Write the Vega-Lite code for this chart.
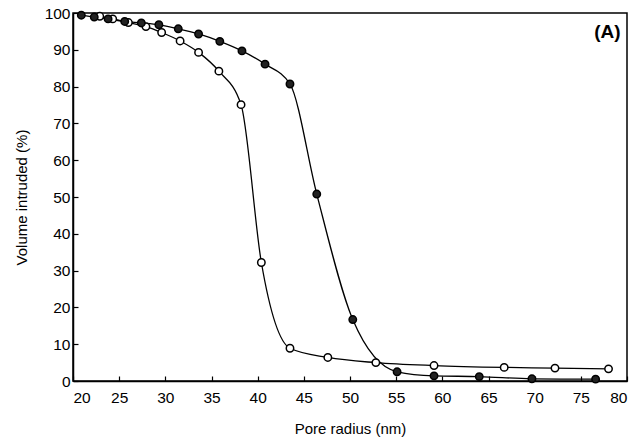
{
  "$schema": "https://vega.github.io/schema/vega-lite/v6.json",
  "width": 554,
  "height": 368,
  "autosize": "none",
  "padding": {"left": 73, "top": 13, "right": 12, "bottom": 59},
  "background": "white",
  "config": {
    "font": "Liberation Sans",
    "view": {"stroke": "black", "strokeWidth": 1.5},
    "axis": {
      "domainColor": "black",
      "domainWidth": 1.5,
      "tickColor": "black",
      "tickSize": -5,
      "tickWidth": 1.2,
      "grid": false,
      "labelOverlap": false,
      "labelFont": "Liberation Sans",
      "labelFontSize": 15.5,
      "labelColor": "black",
      "titleFont": "Liberation Sans",
      "titleFontSize": 15,
      "titleFontWeight": "normal",
      "titleColor": "black"
    }
  },
  "layer": [
    {
      "data": {
        "values": [
          {"series": "open", "r": 22.9, "v": 99.1},
          {"series": "open", "r": 24.3, "v": 98.4},
          {"series": "open", "r": 26.0, "v": 97.4},
          {"series": "open", "r": 27.9, "v": 96.3},
          {"series": "open", "r": 29.6, "v": 94.7},
          {"series": "open", "r": 31.6, "v": 92.4},
          {"series": "open", "r": 33.6, "v": 89.3},
          {"series": "open", "r": 35.8, "v": 84.2},
          {"series": "open", "r": 38.2, "v": 75.1},
          {"series": "open", "r": 40.4, "v": 32.2},
          {"series": "open", "r": 43.5, "v": 8.9},
          {"series": "open", "r": 47.6, "v": 6.4},
          {"series": "open", "r": 52.8, "v": 5.0},
          {"series": "open", "r": 59.1, "v": 4.2},
          {"series": "open", "r": 66.7, "v": 3.7},
          {"series": "open", "r": 72.2, "v": 3.5},
          {"series": "open", "r": 78.0, "v": 3.3},
          {"series": "filled", "r": 20.9, "v": 99.4},
          {"series": "filled", "r": 22.3, "v": 98.9},
          {"series": "filled", "r": 23.8, "v": 98.4},
          {"series": "filled", "r": 25.6, "v": 97.7},
          {"series": "filled", "r": 27.4, "v": 97.3},
          {"series": "filled", "r": 29.3, "v": 96.8},
          {"series": "filled", "r": 31.4, "v": 95.7},
          {"series": "filled", "r": 33.6, "v": 94.3},
          {"series": "filled", "r": 35.9, "v": 92.3},
          {"series": "filled", "r": 38.3, "v": 89.7},
          {"series": "filled", "r": 40.8, "v": 86.1},
          {"series": "filled", "r": 43.5, "v": 80.7},
          {"series": "filled", "r": 46.4, "v": 50.8},
          {"series": "filled", "r": 50.3, "v": 16.7},
          {"series": "filled", "r": 55.1, "v": 2.5},
          {"series": "filled", "r": 59.1, "v": 1.4},
          {"series": "filled", "r": 64.0, "v": 1.2},
          {"series": "filled", "r": 69.7, "v": 0.6},
          {"series": "filled", "r": 76.6, "v": 0.5}
        ]
      },
      "encoding": {
        "x": {
          "field": "r", "type": "quantitative",
          "scale": {"domain": [20, 80], "nice": false, "zero": false},
          "axis": {"values": [20,25,30,35,40,45,50,55,60,65,70,75,80], "title": "Pore radius (nm)", "labelPadding": 14, "titlePadding": 16}
        },
        "y": {
          "field": "v", "type": "quantitative",
          "scale": {"domain": [0, 100], "nice": false},
          "axis": {"values": [0,10,20,30,40,50,60,70,80,90,100], "title": "Volume intruded (%)", "labelPadding": 8, "titlePadding": 15}
        }
      },
      "layer": [
        {
          "mark": {"type": "line", "interpolate": "monotone", "color": "black", "strokeWidth": 1.3},
          "encoding": {"detail": {"field": "series"}}
        },
        {
          "mark": {"type": "point", "shape": "circle", "size": 55, "strokeWidth": 1.5, "stroke": "black", "opacity": 1, "filled": false},
          "encoding": {
            "fill": {"field": "series", "type": "nominal", "scale": {"domain": ["open", "filled"], "range": ["white", "#222222"]}, "legend": null}
          }
        }
      ]
    },
    {
      "data": {"values": [{"label": "(A)"}]},
      "mark": {"type": "text", "fontSize": 19, "fontWeight": "bold", "font": "Liberation Sans", "align": "right", "baseline": "middle", "fill": "black"},
      "encoding": {
        "x": {"datum": 79.3, "type": "quantitative", "axis": {"values": [20,25,30,35,40,45,50,55,60,65,70,75,80], "title": "Pore radius (nm)", "labelPadding": 14, "titlePadding": 16}},
        "y": {"datum": 94.8, "type": "quantitative", "axis": {"values": [0,10,20,30,40,50,60,70,80,90,100], "title": "Volume intruded (%)", "labelPadding": 8, "titlePadding": 15}},
        "text": {"field": "label"}
      }
    }
  ]
}
